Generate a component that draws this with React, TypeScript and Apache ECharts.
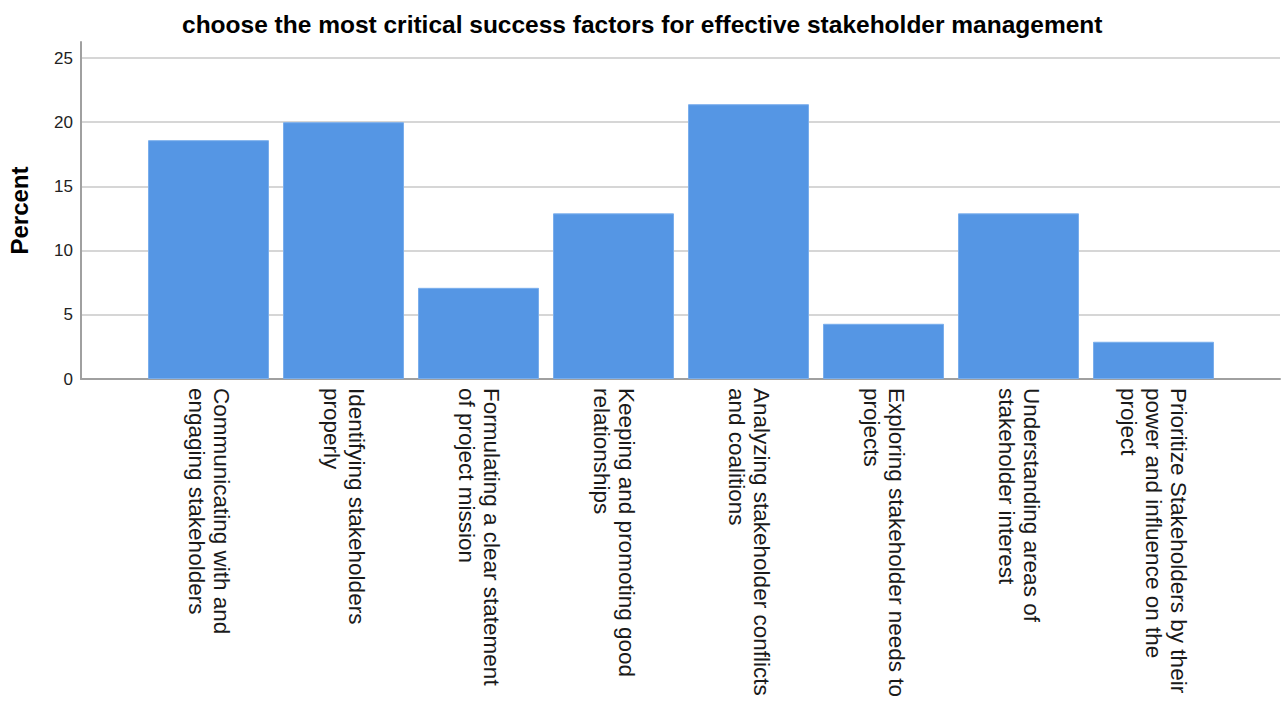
import React, { useEffect, useRef } from "react";
import * as echarts from "echarts";

const TITLE = "choose the most critical success factors for effective stakeholder management";
const Y_NAME = "Percent";
const categories: string[] = [
  "Communicating with and\nengaging stakeholders",
  "Identifying stakeholders\nproperly",
  "Formulating a clear statement\nof project mission",
  "Keeping and promoting good\nrelationships",
  "Analyzing stakeholder conflicts\nand coalitions",
  "Exploring stakeholder needs to\nprojects",
  "Understanding areas of\nstakeholder interest",
  "Prioritize Stakeholders by their\npower and influence on the\nproject",
];
const percents: number[] = [18.6, 20.0, 7.1, 12.9, 21.4, 4.3, 12.9, 2.9];
const Y_MIN = 0;
const Y_MAX = 25;
const Y_FRAME_MAX = 26.25;
const Y_INTERVAL = 5;

const FONT = "'Liberation Sans', Arial, Helvetica, sans-serif";

export default function App() {
  const ref = useRef<HTMLDivElement>(null);
  useEffect(() => {
    if (!ref.current) return;
    const chart = echarts.init(ref.current, null, { renderer: "svg" });
    const grids = [
      { left: 81, right: 5, top: 42, bottom: 343, outerBoundsMode: "none", containLabel: false },
      { left: 81, right: 5, top: 58, bottom: 343, outerBoundsMode: "none", containLabel: false },
      { left: 141, right: 64, top: 58, bottom: 343, outerBoundsMode: "none", containLabel: false },
    ];
    chart.setOption({
      animation: false,
      backgroundColor: "#ffffff",
      title: {
        text: TITLE,
        left: 177,
        top: 7,
        textStyle: { fontFamily: FONT, fontSize: 24.5, fontWeight: "bold", color: "#000" },
      },
      grid: grids,
      xAxis: [
        {
          gridIndex: 0,
          type: "value",
          min: 0,
          max: 1,
          axisLine: { show: true, onZero: false, lineStyle: { color: "#a0a0a0", width: 2 } },
          axisTick: { show: false },
          axisLabel: { show: false },
          splitLine: { show: false },
        },
        {
          gridIndex: 1,
          type: "value",
          min: 0,
          max: 1,
          show: false,
        },
        {
          gridIndex: 2,
          type: "category",
          data: categories,
          axisLine: { show: false },
          axisTick: { show: false },
          axisLabel: {
            rotate: -90,
            margin: 9,
            interval: 0,
            fontFamily: FONT,
            fontSize: 22.5,
            lineHeight: 25,
            padding: [0, 0, 10, 0],
            color: "#1a1a1a",
          },
        },
      ],
      yAxis: [
        {
          gridIndex: 0,
          type: "value",
          min: 0,
          max: Y_FRAME_MAX,
          name: Y_NAME,
          nameLocation: "middle",
          nameRotate: 90,
          nameGap: 50,
          nameTextStyle: { fontFamily: FONT, fontSize: 24, fontWeight: "bold", color: "#000" },
          axisLine: { show: true, lineStyle: { color: "#a0a0a0", width: 2 } },
          axisTick: { show: false },
          axisLabel: { show: false },
          splitLine: { show: false },
        },
        {
          gridIndex: 1,
          type: "value",
          min: Y_MIN,
          max: Y_MAX,
          interval: Y_INTERVAL,
          axisLine: { show: false },
          axisTick: { show: false },
          axisLabel: { margin: 8, fontFamily: FONT, fontSize: 17, color: "#222" },
          splitLine: { show: true, lineStyle: { color: "#c8c8c8", width: 1.5 } },
        },
        {
          gridIndex: 2,
          type: "value",
          min: Y_MIN,
          max: Y_MAX,
          show: false,
          splitLine: { show: false },
        },
      ],
      series: [
        {
          type: "bar",
          xAxisIndex: 2,
          yAxisIndex: 2,
          data: percents,
          barWidth: 121,
          itemStyle: { color: "#5596e4", borderColor: "#7aaeec", borderWidth: 1 },
        },
      ],
    });
    return () => chart.dispose();
  }, []);
  return (
    <div
      ref={ref}
      style={{ position: "fixed", left: 0, top: 0, width: 1285, height: 722, background: "#fff" }}
    />
  );
}
